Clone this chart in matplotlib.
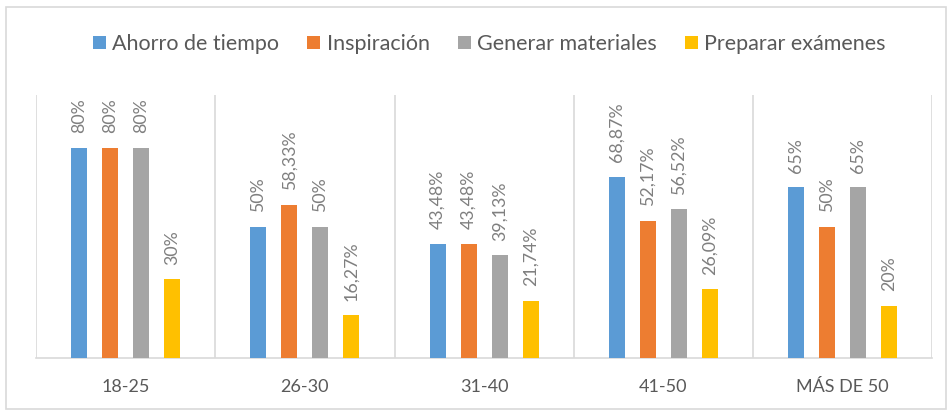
import matplotlib.pyplot as plt
import numpy as np
from matplotlib.patches import Rectangle

grupos = ['18-25', '26-30', '31-40', '41-50', 'MÁS DE 50']
series = ['Ahorro de tiempo', 'Inspiración', 'Generar materiales', 'Preparar exámenes']
ahorro = [80, 50, 43.48, 68.87, 65]
inspiracion = [80, 58.33, 43.48, 52.17, 50]
generar = [80, 50, 39.13, 56.52, 65]
preparar = [30, 16.27, 21.74, 26.09, 20]
colores = ['#5B9BD5', '#ED7D31', '#A5A5A5', '#FFC000']


def etiqueta(v):
    if v == int(v):
        return '%d%%' % v
    return ('%.2f%%' % v).replace('.', ',')


def main():
    plt.rcParams['font.family'] = ['Lato', 'DejaVu Sans']
    fig = plt.figure(figsize=(9.52, 4.15), dpi=100)
    ax = fig.add_axes([0.038, 0.137, 0.941, 0.634])

    x = np.arange(len(grupos))
    ancho = 0.09
    paso = 0.173
    datos = [ahorro, inspiracion, generar, preparar]
    for i, (valores, color, nombre) in enumerate(zip(datos, colores, series)):
        pos = x + (i - 1.5) * paso
        ax.bar(pos, valores, width=ancho, color=color, label=nombre, zorder=3)
        for px, v in zip(pos, valores):
            ax.annotate(etiqueta(v), (px, v), xytext=(0, 10.5), textcoords='offset points',
                        rotation=90, ha='center', va='bottom', fontsize=12.8, color='#7F7F7F')

    for b in np.arange(-0.5, len(grupos), 1):
        ax.axvline(b, color='#D9D9D9', lw=1.2, zorder=1)

    ax.set_xlim(-0.5, len(grupos) - 0.5)
    ax.set_ylim(0, 100)
    ax.set_yticks([])
    ax.set_xticks(x)
    ax.set_xticklabels(grupos, fontsize=13, color='#595959')
    ax.tick_params(axis='x', length=0, pad=15)
    for s in ['top', 'right', 'left']:
        ax.spines[s].set_visible(False)
    ax.spines['bottom'].set_color('#D9D9D9')
    ax.spines['bottom'].set_linewidth(1.2)

    fig.legend(loc='center', bbox_to_anchor=(0.514, 0.894), ncol=4, frameon=False,
               fontsize=15.5, handlelength=0.6, handleheight=0.6, handletextpad=0.3,
               columnspacing=1.3, labelcolor='#595959')

    fig.patches.append(Rectangle((0.006, 0.015), 0.988, 0.968, transform=fig.transFigure,
                                 fill=False, edgecolor='#D9D9D9', lw=1.2))

    plt.savefig('out.png', dpi=100)


if __name__ == "__main__":
    main()
